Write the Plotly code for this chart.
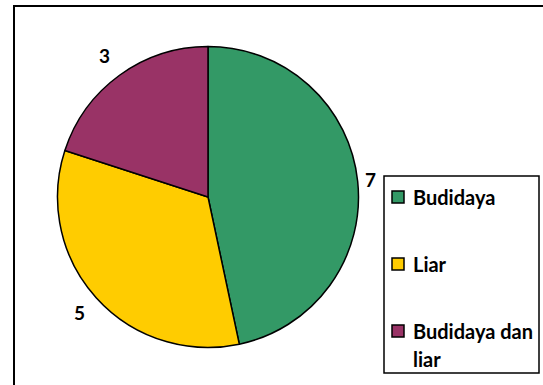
import math
import plotly.graph_objects as go

categories = ["Budidaya", "Liar", "Budidaya dan liar"]
values = [7, 5, 3]
colors = ["#339966", "#FFCC00", "#993366"]
legend_lines = [["Budidaya"], ["Liar"], ["Budidaya dan", "liar"]]

W, H = 543, 385

def px(x):
    return x / W

def py(y):
    return 1 - y / H

# pie geometry (pixels)
CX, CY, R = 208, 197, 150.5

fig = go.Figure()
fig.add_trace(go.Pie(
    labels=categories,
    values=values,
    sort=False,
    direction="clockwise",
    rotation=0,
    marker=dict(colors=colors, line=dict(color="black", width=1.5)),
    textinfo="none",
    showlegend=False,
    domain=dict(x=[px(CX - R), px(CX + R)], y=[py(CY + R), py(CY - R)]),
    hoverinfo="label+value",
))

shapes = []
annotations = []

# value labels outside each slice, derived from the slice mid-angles
total = sum(values)
cum = 0
lab_w, lab_h, gap = 0, 34, 11
for v in values:
    mid = (cum + v / 2) / total * 2 * math.pi
    cum += v
    ux, uy = math.sin(mid), -math.cos(mid)
    d = R + gap + abs(ux) * lab_w / 2 + abs(uy) * lab_h / 2
    annotations.append(dict(text=str(v), xref="paper", yref="paper",
                            x=px(CX + ux * d), y=py(CY + uy * d),
                            xanchor="center", yanchor="middle", showarrow=False,
                            font=dict(family="Lato", size=19, color="black", weight="bold")))

# outer chart border (cut off at right/bottom)
shapes.append(dict(type="rect", xref="paper", yref="paper",
                   x0=px(14), x1=px(W + 5), y0=py(H + 5), y1=py(6),
                   line=dict(color="black", width=2), fillcolor="rgba(0,0,0,0)"))
# legend box
shapes.append(dict(type="rect", xref="paper", yref="paper",
                   x0=px(384), x1=px(539), y0=py(373), y1=py(176),
                   line=dict(color="black", width=1.5), fillcolor="white"))

item_y = [197, 264, 331]
line_gap = 28
for i, (lines, col) in enumerate(zip(legend_lines, colors)):
    yc = item_y[i]
    shapes.append(dict(type="rect", xref="paper", yref="paper",
                       x0=px(392), x1=px(404), y0=py(yc + 6), y1=py(yc - 6),
                       line=dict(color="black", width=1.5), fillcolor=col))
    for j, t in enumerate(lines):
        annotations.append(dict(text=t, xref="paper", yref="paper",
                                x=px(411), y=py(yc + j * line_gap),
                                xanchor="left", yanchor="middle", showarrow=False,
                                font=dict(family="Lato", size=20, color="black", weight="bold")))

fig.update_layout(
    width=W, height=H,
    margin=dict(l=0, r=0, t=0, b=0),
    paper_bgcolor="white",
    plot_bgcolor="white",
    shapes=shapes,
    annotations=annotations,
)

fig.write_html("out.html", config={"displayModeBar": False},
               post_script="document.body.style.margin='0';")
